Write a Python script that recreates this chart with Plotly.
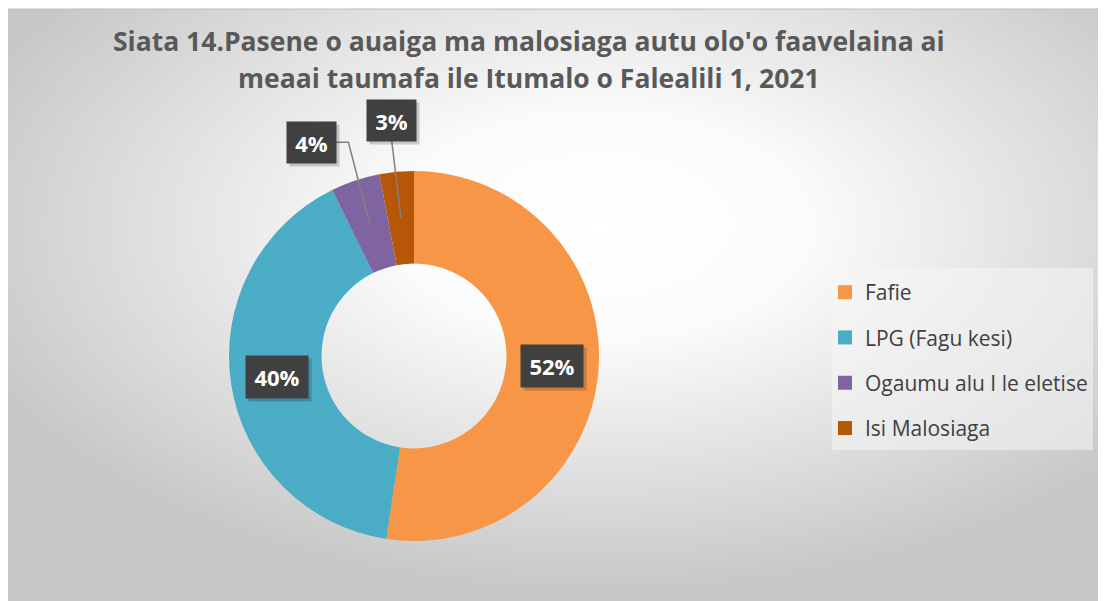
import math, base64
import plotly.graph_objects as go

# ---- data ----
categories = ["Fafie", "LPG (Fagu kesi)", "Ogaumu alu I le eletise", "Isi Malosiaga"]
values = [52.4, 40.3, 4.3, 3.0]
colors = ["#F79646", "#4BACC6", "#8064A2", "#B65708"]
title_lines = ["Siata 14.Pasene o auaiga ma malosiaga autu olo'o faavelaina ai",
               "meaai taumafa ile Itumalo o Falealili 1, 2021"]

W, H = 1106, 601
OX, OY = 8, 8  # page body margin
def X(px): return (px - OX) / W
def Y(py): return 1 - (py - OY) / H

# donut geometry (screen pixels)
CX, CY, R = 414, 356, 185
HOLE = 0.5

fig = go.Figure()

fig.add_trace(go.Pie(
    labels=categories, values=values, marker=dict(colors=colors, line=dict(width=0)),
    hole=HOLE, sort=False, direction="clockwise", rotation=0,
    textinfo="none", showlegend=False, hoverinfo="label+percent",
    domain=dict(x=[X(CX - R), X(CX + R)], y=[Y(CY + R), Y(CY - R)]),
))

# legend via marker-only traces (one group per category for spacing)
for c, col in zip(categories, colors):
    fig.add_trace(go.Scatter(x=[None], y=[None], mode="markers", name=c,
                             legendgroup=c,
                             marker=dict(symbol="square", size=14, color=col)))

# background radial gradient
svg = ('<svg xmlns="http://www.w3.org/2000/svg" width="1102" height="592" viewBox="0 0 1102 592" preserveAspectRatio="none">'
       '<defs><radialGradient id="g" cx="0.54" cy="0.36" r="0.62">'
       '<stop offset="0" stop-color="#ffffff"/><stop offset="0.3" stop-color="#fbfbfb"/>'
       '<stop offset="1" stop-color="#c6c6c6"/></radialGradient></defs>'
       '<rect width="1102" height="592" fill="url(#g)"/></svg>')
src = "data:image/svg+xml;base64," + base64.b64encode(svg.encode()).decode()

shapes = [dict(type="rect", xref="paper", yref="paper", x0=X(4), x1=X(1110), y0=Y(610), y1=Y(9),
               line=dict(color="#bdbdbd", width=1), fillcolor="rgba(0,0,0,0)", layer="below"),
          # legend panel
          dict(type="rect", xref="paper", yref="paper", x0=X(832), x1=X(1093), y0=Y(450), y1=Y(268),
               line=dict(width=0), fillcolor="rgba(246,246,246,0.55)", layer="below")]
annotations = []

total = sum(values)
cum = 0
for i, v in enumerate(values):
    frac = v / total
    mid = cum + frac / 2
    cum += frac
    ang = math.radians(360 * mid)
    txt = f"{round(frac*100)}%"
    ax_ = CX + 0.75 * R * math.sin(ang)
    ay_ = CY - 0.75 * R * math.cos(ang)
    if frac >= 0.05:
        bx, by, bw, bh = ax_, ay_, 56, 36
    else:
        nudge = -7 if i == 2 else 0
        a2 = math.radians(360 * mid + nudge)
        rr = 1.28 * R
        bx = CX + rr * math.sin(a2)
        by = CY - rr * math.cos(a2)
        bw, bh = 43, 35
        half_w = bw / 2 + 3
        half_h = bh / 2 + 3
        if ax_ > bx + half_w:
            p = f"M {X(bx+half_w)},{Y(by)} L {X(bx+half_w+12)},{Y(by)} L {X(ax_)},{Y(ay_)}"
        else:
            p = f"M {X(bx)},{Y(by+half_h)} L {X(ax_)},{Y(ay_)}"
        shapes.append(dict(type="path", xref="paper", yref="paper", path=p,
                           line=dict(color="#808080", width=1.5)))
    # shadow
    annotations.append(dict(x=X(bx + 3), y=Y(by + 3), xref="paper", yref="paper", showarrow=False,
                            xanchor="center", yanchor="middle",
                            text=" ", width=bw, height=bh, borderpad=3,
                            bgcolor="rgba(0,0,0,0.18)", font=dict(size=22)))
    annotations.append(dict(x=X(bx), y=Y(by), xref="paper", yref="paper", showarrow=False,
                            xanchor="center", yanchor="middle",
                            text=f"<b>{txt}</b>", width=bw, height=bh, borderpad=3,
                            bgcolor="#404040", font=dict(family="Open Sans", size=22, color="white")))

for line, ty in zip(title_lines, [41, 78]):
    annotations.append(dict(x=X(529), y=Y(ty), xref="paper", yref="paper", xanchor="center",
                            yanchor="middle", showarrow=False, text=f"<b>{line}</b>",
                            font=dict(family="Open Sans", size=26.5, color="#595959")))

fig.update_layout(
    width=W, height=H,
    margin=dict(l=0, r=0, t=0, b=0),
    paper_bgcolor="white", plot_bgcolor="rgba(0,0,0,0)",
    xaxis=dict(visible=False), yaxis=dict(visible=False),
    images=[dict(source=src, xref="paper", yref="paper", x=X(4), y=Y(9),
                 sizex=X(1110) - X(4), sizey=Y(9) - Y(610), xanchor="left", yanchor="top",
                 sizing="stretch", layer="below")],
    shapes=shapes, annotations=annotations,
    legend=dict(x=X(825), y=Y(272), xanchor="left", yanchor="top",
                bgcolor="rgba(0,0,0,0)", borderwidth=0,
                font=dict(family="Open Sans", size=21, color="#404040"),
                tracegroupgap=15, itemwidth=30),
    showlegend=True,
)

fig.write_html("out.html")
